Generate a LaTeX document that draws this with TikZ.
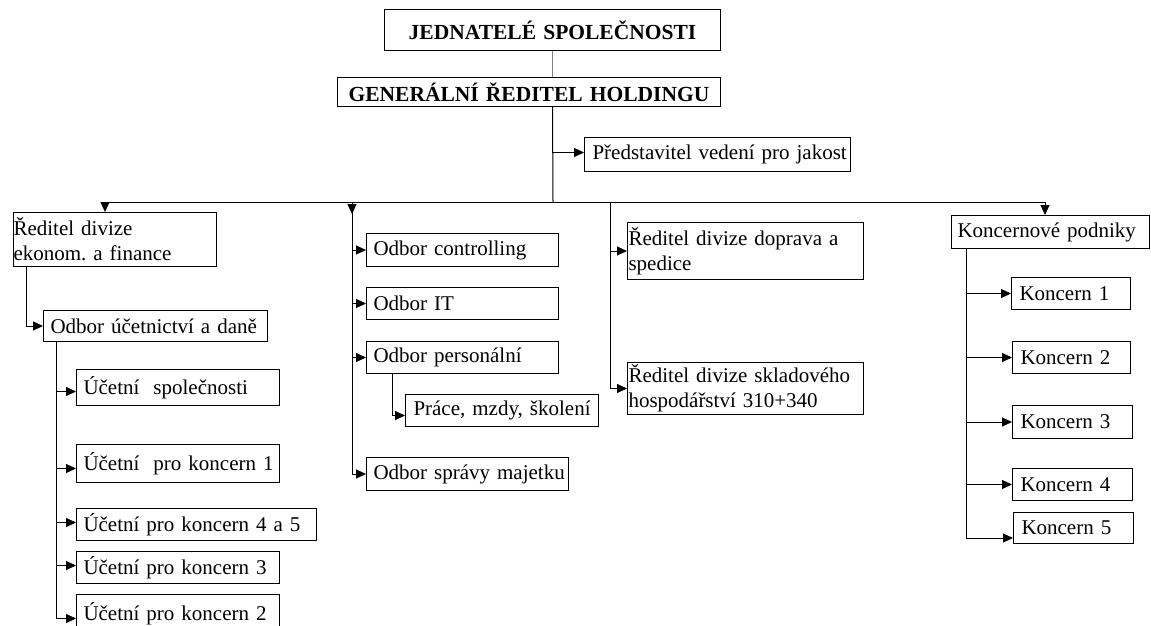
\documentclass[tikz,border=0pt]{standalone}
\usepackage{fontspec}
\setmainfont{Liberation Serif}
\usetikzlibrary{arrows.meta}
\frenchspacing
\begin{document}
\begin{tikzpicture}[x=1pt,y=-1pt,
  every node/.style={font=\fontsize{21}{25}\selectfont},
  box/.style 2 args={draw, line width=1pt, anchor=north west, minimum width=#1pt, minimum height=#2pt, inner ysep=0pt, align=left},
  title/.style={font=\fontsize{21.5}{25}\selectfont\bfseries, align=center, inner xsep=0pt},
  conn/.style={line width=1pt},
  arr/.style={line width=1pt, -{Triangle[length=10pt,width=9pt]}}]
\useasboundingbox (0,0) rectangle (1151,626);
\clip (0,0) rectangle (1151,626);
% top
\node[box={336}{41}, title, text width=336pt] (j) at (384,9) {\mbox{JEDNATELÉ SPOLEČNOSTI}};
\node[box={383}{29}, title, text width=375pt] (g) at (337,77) {\mbox{GENERÁLNÍ ŘEDITEL HOLDINGU}};
\node[box={266}{34}, inner xsep=8pt, text width=250pt] (p) at (584,137) {\mbox{Představitel vedení pro jakost}};
% column 1
\node[box={203}{54}, inner xsep=0pt, text width=203pt] (e) at (13,212) {\mbox{Ředitel divize}\\\mbox{ekonom. a finance}};
\node[box={224}{31}, inner xsep=7pt, text width=210pt] (u) at (43,310) {\mbox{Odbor účetnictví a daně}};
\node[box={203}{36}, inner xsep=7pt, text width=189pt] (u1) at (76,369) {\mbox{Účetní\ \ společnosti}};
\node[box={203}{38}, inner xsep=7pt, text width=189pt] (u2) at (76,444) {\mbox{Účetní\ \ pro koncern 1}};
\node[box={240}{32}, inner xsep=7pt, text width=226pt] (u3) at (76,508) {\mbox{Účetní pro koncern 4 a 5}};
\node[box={203}{32}, inner xsep=7pt, text width=189pt] (u4) at (76,551) {\mbox{Účetní pro koncern 3}};
\node[box={203}{38}, inner xsep=7pt, text width=189pt] (u5) at (76,594) {\mbox{Účetní pro koncern 2}};
% column 2
\node[box={192}{33}, inner xsep=7pt, text width=178pt] (o1) at (366,233) {\mbox{Odbor controlling}};
\node[box={192}{32}, inner xsep=7pt, text width=178pt] (o2) at (366,287) {\mbox{Odbor IT}};
\node[box={192}{32}, inner xsep=7pt, text width=178pt] (o3) at (366,341) {\mbox{Odbor personální}};
\node[box={193}{32}, inner xsep=8pt, text width=177pt] (o4) at (405,394) {\mbox{Práce, mzdy, školení}};
\node[box={202}{33}, inner xsep=7pt, text width=188pt] (o5) at (366,457) {\mbox{Odbor správy majetku}};
% column 3
\node[box={236}{57}, inner xsep=1pt, text width=234pt] (d1) at (627,222) {\mbox{Ředitel divize doprava a}\\\mbox{spedice}};
\node[box={236}{52}, inner xsep=1pt, text width=234pt] (d2) at (627,362) {\mbox{Ředitel divize skladového}\\\mbox{hospodářství 310+340}};
% column 4
\node[box={198}{33}, inner xsep=6pt, text width=186pt] (k) at (951,215) {\mbox{Koncernové podniky}};
\node[box={119}{32}, inner xsep=8pt, text width=103pt] (k1) at (1011,277) {\mbox{Koncern 1}};
\node[box={118}{32}, inner xsep=8pt, text width=102pt] (k2) at (1012,341) {\mbox{Koncern 2}};
\node[box={120}{33}, inner xsep=8pt, text width=104pt] (k3) at (1012,405) {\mbox{Koncern 3}};
\node[box={120}{32}, inner xsep=8pt, text width=104pt] (k4) at (1012,468) {\mbox{Koncern 4}};
\node[box={120}{31}, inner xsep=8pt, text width=104pt] (k5) at (1013,512) {\mbox{Koncern 5}};
% coordinates
\coordinate (bus) at (553,202);
\coordinate (b1) at (105,202);
\coordinate (b2) at (352,202);
\coordinate (b2a) at (352,214);
\coordinate (b3) at (610,202);
\coordinate (b4) at (1045,202);
% connectors
\draw[conn, gray] (j.south) -- (j.south |- g.north);
\draw[conn] (j.south |- g.south) -- (bus);
\draw[arr] ([yshift=2pt]bus |- p.west) -- ([yshift=2pt]p.west);
\draw[conn] (b1) -- (b4);
\draw[arr] (b1) -- (b1 |- e.north);
\draw[arr] (b4) -- (b4 |- k.north);
\draw[arr] (b2) -- (b2a);
\draw[conn] (b2) -- (b2 |- o5.west);
\draw[arr] (b2 |- o1.west) -- (o1.west);
\draw[arr] (b2 |- o2.west) -- (o2.west);
\draw[arr] (b2 |- o3.west) -- (o3.west);
\draw[arr] (b2 |- o5.west) -- (o5.west);
\draw[arr] ([xshift=26pt]o3.south west) |- ([yshift=-5pt]o4.west);
\draw[conn] (b3) -- (b3 |- d2.west);
\draw[arr] (b3 |- d1.west) -- (d1.west);
\draw[arr] (b3 |- d2.west) -- (d2.west);
\draw[arr] ([xshift=13pt]e.south west) |- (u.west);
\draw[arr] ([xshift=13pt]u.south west) |- ([yshift=-4pt]u1.west);
\draw[arr] ([xshift=13pt]u.south west) |- ([yshift=-5pt]u2.west);
\draw[arr] ([xshift=13pt]u.south west) |- ([yshift=2pt]u3.west);
\draw[arr] ([xshift=13pt]u.south west) |- ([yshift=2pt]u4.west);
\draw[arr] ([xshift=13pt]u.south west) |- ([yshift=-5pt]u5.west);
\draw[arr] ([xshift=15pt]k.south west) |- (k1.west);
\draw[arr] ([xshift=15pt]k.south west) |- (k2.west);
\draw[arr] ([xshift=15pt]k.south west) |- (k3.west);
\draw[arr] ([xshift=15pt]k.south west) |- (k4.west);
\draw[arr] ([xshift=15pt]k.south west) |- ([yshift=-10pt]k5.west);
\end{tikzpicture}
\end{document}
